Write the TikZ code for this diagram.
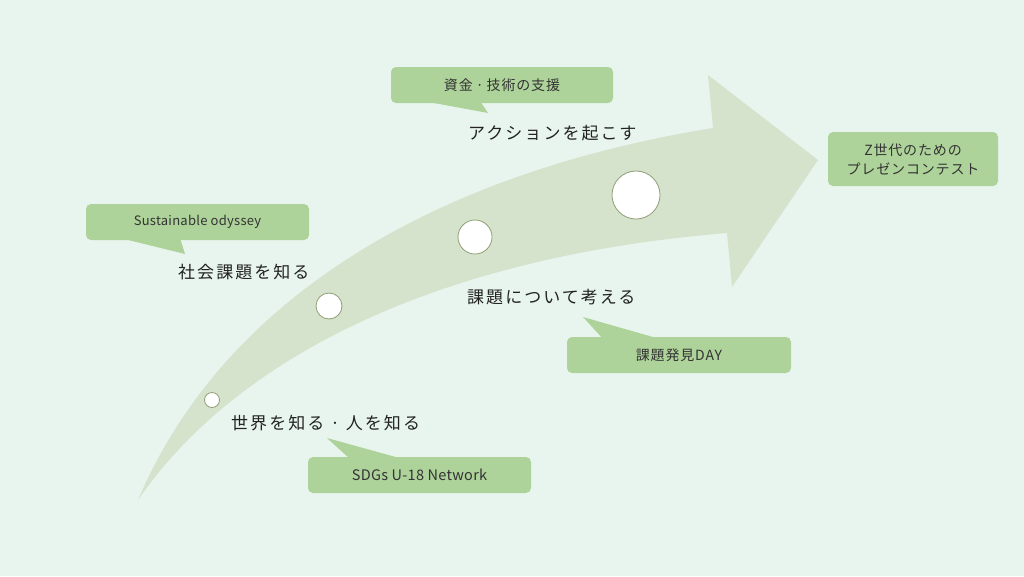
\documentclass[tikz,border=0pt]{standalone}
\usepackage{fontspec}
\setmainfont{Noto Sans CJK JP}
\newfontfamily\jplbl[LetterSpace=12]{Noto Sans CJK JP}
\newfontfamily\jpbox[LetterSpace=6]{Noto Sans CJK JP}
\newfontfamily\latbox[LetterSpace=2]{Noto Sans CJK JP}
\definecolor{bgc}{HTML}{E8F5EE}
\definecolor{arrowc}{HTML}{D5E3CC}
\definecolor{boxc}{HTML}{AED39A}
\definecolor{ringc}{HTML}{8E9E74}
\definecolor{txtc}{HTML}{222222}
\definecolor{boxtxt}{HTML}{333333}
\tikzset{
  callout/.style={fill=boxc, rounded corners=5pt, inner sep=0pt, align=center,
    text=boxtxt, font=\jpbox\fontsize{14}{19}\selectfont},
  lbl/.style={anchor=west, inner sep=0pt, text=txtc, font=\jplbl\fontsize{17}{20}\selectfont},
  dot/.style={circle, fill=white, draw=ringc, line width=0.8pt, inner sep=0pt}
}
\begin{document}
\begin{tikzpicture}[x=1pt,y=-1pt]
\fill[bgc] (0,0) rectangle (1024,576);
\useasboundingbox (0,0) rectangle (1024,576);
% arrow
\fill[arrowc] (138,500) .. controls (225,295) and (440,172) .. (713,128) -- (708,75) -- (818,160) -- (732,287) -- (727,233) .. controls (400,260) and (220,380) .. (138,500) -- cycle;
% circles
\node[dot, minimum size=15pt] (d1) at (212,400) {};
\node[dot, minimum size=26pt] (d2) at (329,306) {};
\node[dot, minimum size=34pt] (d3) at (475,237) {};
\node[dot, minimum size=48pt] (d4) at (636,195) {};
% callouts
\fill[boxc] (120,238) -- (185,254) -- (180,238) -- cycle;
\node[callout, minimum width=223pt, minimum height=36pt, font=\latbox\fontsize{13}{16}\selectfont] (c1) at (197.5,222) {Sustainable odyssey};
\fill[boxc] (423,101) -- (488,113) -- (480,101) -- cycle;
\node[callout, minimum width=222pt, minimum height=36pt] (c2) at (502,85) {資金\hspace{3pt}·\hspace{3pt}技術の支援};
\fill[boxc] (603,339) -- (583,317) -- (660,339) -- cycle;
\node[callout, minimum width=224pt, minimum height=36pt] (c3) at (679,355) {課題発見DAY};
\fill[boxc] (350,459) -- (327,438) -- (403,459) -- cycle;
\node[callout, minimum width=223pt, minimum height=36pt, font=\latbox\fontsize{14.5}{18}\selectfont] (c4) at (419.5,475) {SDGs U-18 Network};
\node[callout, minimum width=170pt, minimum height=54pt] (c5) at (913,159) {Z世代のための\\プレゼンコンテスト};
% labels
\node[lbl] (l1) at (178,272) {社会課題を知る};
\node[lbl] (l2) at (468,133) {アクションを起こす};
\node[lbl] (l3) at (467,297) {課題について考える};
\node[lbl] (l4) at (231,423) {世界を知る\hspace{6pt}·\hspace{6pt}人を知る};
\end{tikzpicture}
\end{document}
